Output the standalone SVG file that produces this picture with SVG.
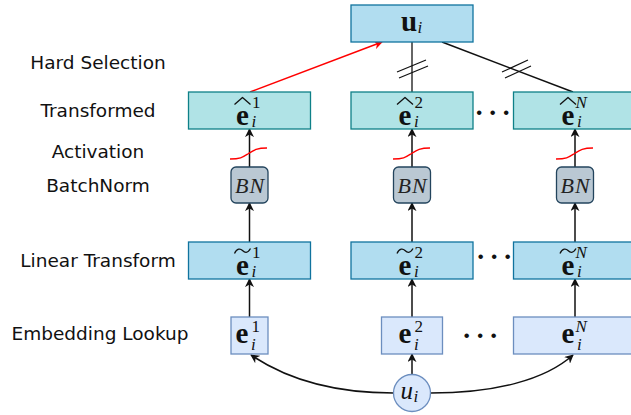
<svg xmlns="http://www.w3.org/2000/svg" width="631" height="415" viewBox="0 0 631 415">
<defs>
<style>
.lbl{font-family:"DejaVu Sans",Verdana,sans-serif;font-size:18.5px;fill:#111;text-anchor:middle}
.mb{font-family:"Liberation Serif","Times New Roman",serif;font-weight:bold;font-size:29px;fill:#111}
.sc{font-family:"Liberation Serif","Times New Roman",serif;font-size:17px;fill:#111}
.it{font-style:italic}
.bnt{font-family:"Liberation Serif","Times New Roman",serif;font-style:italic;font-size:22px;fill:#222;text-anchor:middle;letter-spacing:1px}
.dots{font-family:"Liberation Serif","Times New Roman",serif;font-weight:bold;font-size:28px;fill:#111}
.top{fill:#b1ddf0;stroke:#10739e;stroke-width:1.3}
.tr{fill:#b0e3e6;stroke:#0e8088;stroke-width:1.3}
.lin{fill:#b1ddf0;stroke:#10739e;stroke-width:1.3}
.bn{fill:#bac8d3;stroke:#23445d;stroke-width:1.3}
.emb{fill:#dae8fc;stroke:#6c8ebf;stroke-width:1.3}
.acc{fill:none;stroke:#111;stroke-width:1.3;stroke-linejoin:round}
.c{fill:none;stroke:#111;stroke-width:1.5}
.red{fill:none;stroke:#ff0000;stroke-width:1.5}
.sig{fill:none;stroke:#ff0000;stroke-width:1.3}
.hash{fill:none;stroke:#111;stroke-width:1.2}
</style>
<marker id="ah" viewBox="0 0 10 10" markerWidth="9" markerHeight="9" refX="9" refY="5" orient="auto" markerUnits="userSpaceOnUse">
<path d="M0,0 L10,5 L0,10 L3,5 z" fill="#111"/>
</marker>
<marker id="ahr" viewBox="0 0 10 10" markerWidth="9" markerHeight="9" refX="9" refY="5" orient="auto" markerUnits="userSpaceOnUse">
<path d="M0,0 L10,5 L0,10 L3,5 z" fill="#ff0000"/>
</marker>
</defs>

<g id="labels">
<text class="lbl" x="98" y="69">Hard Selection</text>
<text class="lbl" x="98" y="117">Transformed</text>
<text class="lbl" x="98" y="158">Activation</text>
<text class="lbl" x="98" y="192">BatchNorm</text>
<text class="lbl" x="98" y="267">Linear Transform</text>
<text class="lbl" x="100" y="340">Embedding Lookup</text>
</g>

<g id="connectors">
<path class="red" d="M250,92 L382,42" marker-end="url(#ahr)"/>
<path class="c" d="M412,92 L412,42" style="stroke:#333"/>
<path class="c" d="M573,92 L442,42"/>
<path class="hash" d="M397,72 L426,60 M399,78 L428,66"/>
<path class="hash" d="M502,72 L528,60 M505,78 L531,66"/>
<path class="c" d="M249.5,167 L249.5,129" marker-end="url(#ah)"/>
<path class="c" d="M412,167 L412,129" marker-end="url(#ah)"/>
<path class="c" d="M575,167 L575,129" marker-end="url(#ah)"/>
<path class="c" d="M249.5,242 L249.5,203" marker-end="url(#ah)"/>
<path class="c" d="M412,242 L412,203" marker-end="url(#ah)"/>
<path class="c" d="M575,242 L575,203" marker-end="url(#ah)"/>
<path class="c" d="M249.5,317 L249.5,279" marker-end="url(#ah)"/>
<path class="c" d="M412,317 L412,279" marker-end="url(#ah)"/>
<path class="c" d="M575,317 L575,279" marker-end="url(#ah)"/>
<path class="c" d="M412,375 L412,354" marker-end="url(#ah)"/>
<path class="c" d="M393.5,393 C330,393 285,378 251,355" marker-end="url(#ah)"/>
<path class="c" d="M430.5,393 C495,393 545,380 573,355" marker-end="url(#ah)"/>
</g>

<g id="act">
<path class="sig" d="M230,159 C241,159 243,157 248.5,153.5 C254,150 257,148 267,148"/>
<path class="sig" d="M393,159 C404,159 406,157 411.5,153.5 C417,150 420,148 430,148"/>
<path class="sig" d="M556,159 C567,159 569,157 574.5,153.5 C580,150 583,148 593,148"/>
</g>

<g id="node-u">
<rect class="top" x="351" y="5" width="122" height="37"/>
<text class="mb" x="401" y="31">u</text>
<text class="sc it" x="417.5" y="33">i</text>
</g>

<g id="node-t1">
<rect class="tr" x="188.5" y="92" width="122" height="37"/>
<path class="acc" d="M234.5,104.5 L242.5,97.5 L250.5,104.5"/>
<text class="mb" x="236" y="124.5">e</text>
<text class="sc" x="252" y="108">1</text>
<text class="sc it" x="251.5" y="127">i</text>
</g>
<g id="node-t2">
<rect class="tr" x="351" y="92" width="122" height="37"/>
<path class="acc" d="M397,104.5 L405,97.5 L413,104.5"/>
<text class="mb" x="398.5" y="124.5">e</text>
<text class="sc" x="414.5" y="108">2</text>
<text class="sc it" x="414" y="127">i</text>
</g>
<g id="node-t3">
<rect class="tr" x="513.5" y="92" width="122" height="37"/>
<path class="acc" d="M560,104.5 L568,97.5 L576,104.5"/>
<text class="mb" x="561.5" y="124.5">e</text>
<text class="sc it" x="575.5" y="108">N</text>
<text class="sc it" x="577" y="127">i</text>
</g>
<text class="dots" x="474.5 488 501.5" y="122">···</text>

<g id="node-bn1">
<rect class="bn" x="231" y="167" width="37" height="36" rx="5"/>
<text class="bnt" x="250" y="193">BN</text>
</g>
<g id="node-bn2">
<rect class="bn" x="393.5" y="167" width="37" height="36" rx="5"/>
<text class="bnt" x="412.5" y="193">BN</text>
</g>
<g id="node-bn3">
<rect class="bn" x="556.5" y="167" width="37" height="36" rx="5"/>
<text class="bnt" x="575.5" y="193">BN</text>
</g>

<g id="node-l1">
<rect class="lin" x="188.5" y="242" width="122" height="37"/>
<path class="acc" d="M234.5,253.5 C237,248 240.5,248.5 242.5,250.5 C244.5,252.5 247.5,254 250.5,248.5"/>
<text class="mb" x="236" y="274.5">e</text>
<text class="sc" x="252" y="258">1</text>
<text class="sc it" x="251.5" y="277">i</text>
</g>
<g id="node-l2">
<rect class="lin" x="351" y="242" width="122" height="37"/>
<path class="acc" d="M397,253.5 C399.5,248 403,248.5 405,250.5 C407,252.5 410,254 413,248.5"/>
<text class="mb" x="398.5" y="274.5">e</text>
<text class="sc" x="414.5" y="258">2</text>
<text class="sc it" x="414" y="277">i</text>
</g>
<g id="node-l3">
<rect class="lin" x="513.5" y="242" width="122" height="37"/>
<path class="acc" d="M560,253.5 C562.5,248 566,248.5 568,250.5 C570,252.5 573,254 576,248.5"/>
<text class="mb" x="561.5" y="274.5">e</text>
<text class="sc it" x="575.5" y="258">N</text>
<text class="sc it" x="577" y="277">i</text>
</g>
<text class="dots" x="476 489.5 503" y="266">···</text>

<g id="node-e1">
<rect class="emb" x="231" y="317" width="37" height="37"/>
<text class="mb" x="235.5" y="343">e</text>
<text class="sc" x="251.5" y="332">1</text>
<text class="sc it" x="251" y="349.5">i</text>
</g>
<g id="node-e2">
<rect class="emb" x="381.5" y="317" width="61" height="37"/>
<text class="mb" x="398.5" y="343">e</text>
<text class="sc" x="414.5" y="332">2</text>
<text class="sc it" x="414" y="349.5">i</text>
</g>
<g id="node-e3">
<rect class="emb" x="513.5" y="317" width="122" height="37"/>
<text class="mb" x="561.5" y="343">e</text>
<text class="sc it" x="575.5" y="332">N</text>
<text class="sc it" x="577" y="349.5">i</text>
</g>
<text class="dots" x="462 475.5 489" y="345">···</text>

<g id="node-ui">
<circle class="emb" cx="412" cy="393" r="18.5"/>
<text class="sc it" x="400.5" y="399" style="font-size:25px">u</text>
<text class="sc it" x="413.5" y="402">i</text>
</g>
</svg>
